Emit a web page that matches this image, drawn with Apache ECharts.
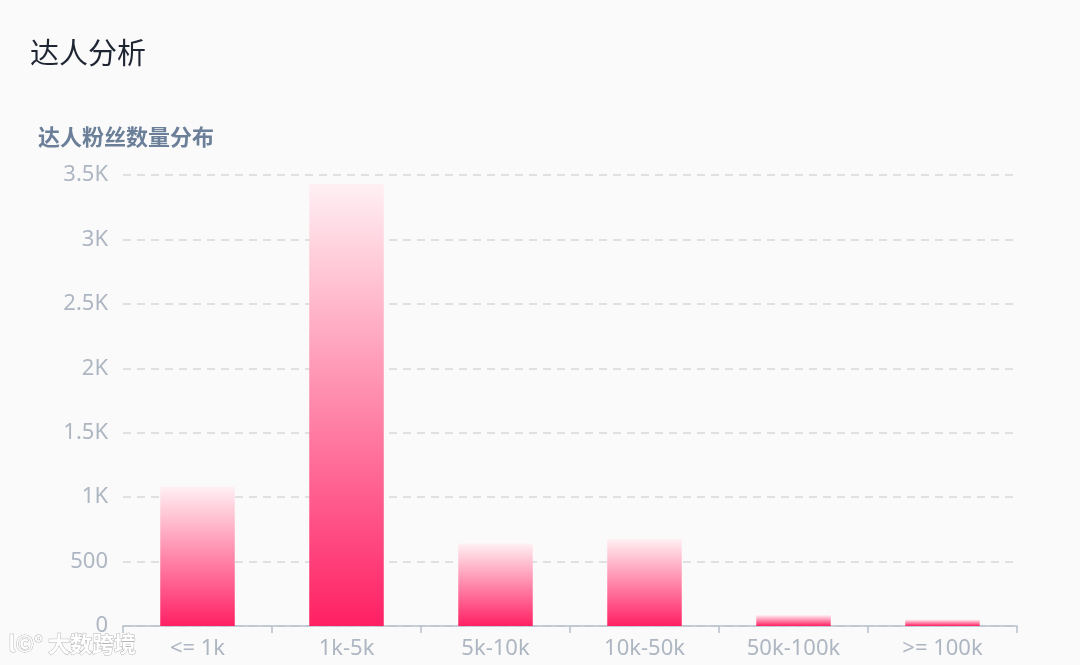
<!DOCTYPE html>
<html><head><meta charset="utf-8">
<script src="https://cdn.jsdelivr.net/npm/echarts@6/dist/echarts.min.js"></script>
<style>html,body{margin:0;padding:0;background:#fff;}#c{width:1080px;height:665px;}</style>
</head><body><div id="c"></div>
<script>
const categories = ['<= 1k', '1k-5k', '5k-10k', '10k-50k', '50k-100k', '>= 100k'];
const fanCounts = [1080, 3430, 640, 675, 85, 50];
const yTicks = { min: 0, max: 3500, interval: 500 };

const chart = echarts.init(document.getElementById('c'));
chart.setOption({
  backgroundColor: '#fafafa',
  graphic: [
    { type: 'text', left: 30, top: 38, style: { text: '达人分析', font: '29px "Noto Sans CJK SC"', fill: '#1f2533' } },
    { type: 'text', left: 38, top: 126, style: { text: '达人粉丝数量分布', font: 'bold 22px "Noto Sans CJK SC"', fill: '#6b7f99' } },
    { type: 'text', left: 8, top: 632, style: { text: 'l©° 大数跨境', font: 'bold 22px "Noto Sans CJK SC"', fill: '#ffffff', stroke: '#b5b5b5', lineWidth: 1 } }
  ],
  grid: { left: 123, right: 63, top: 175, bottom: 39 },
  xAxis: {
    type: 'category',
    data: categories,
    axisLine: { lineStyle: { color: '#b8c0cc', width: 1.5 } },
    axisTick: { show: true, alignWithLabel: false, length: 7, lineStyle: { color: '#b8c0cc', width: 1.5 } },
    axisLabel: { color: '#aeb6c2', fontSize: 22, margin: 12, fontFamily: '"Noto Sans", "Open Sans", sans-serif' }
  },
  yAxis: {
    type: 'value',
    min: yTicks.min, max: yTicks.max, interval: yTicks.interval,
    axisLine: { show: false },
    axisTick: { show: false },
    axisLabel: {
      color: '#aeb6c2', fontSize: 22, margin: 15, fontFamily: '"Noto Sans", "Open Sans", sans-serif',
      formatter: v => v >= 1000 ? (v / 1000) + 'K' : String(v)
    },
    splitLine: { lineStyle: { color: '#d8d8d8', type: [8, 6], width: 1.5 } }
  },
  series: [{
    type: 'bar',
    data: fanCounts,
    barWidth: '50%',
    itemStyle: {
      color: new echarts.graphic.LinearGradient(0, 0, 0, 1, [
        { offset: 0, color: '#fff0f3' },
        { offset: 1, color: '#ff2063' }
      ])
    }
  }]
});
</script></body></html>
